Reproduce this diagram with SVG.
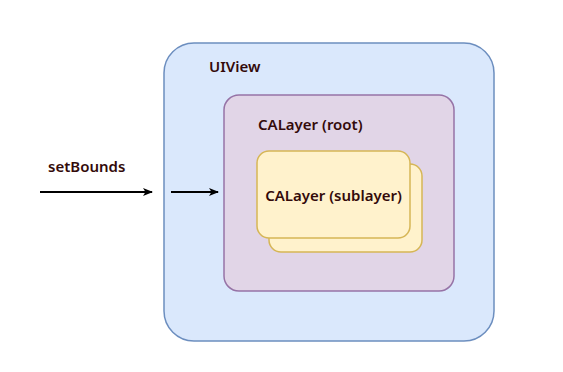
<svg xmlns="http://www.w3.org/2000/svg" width="563" height="372" viewBox="0 0 563 372">
<defs>
<marker id="ah" markerWidth="10" markerHeight="8" refX="9" refY="4" orient="auto" markerUnits="userSpaceOnUse">
<path d="M0,0 L10,4 L0,8 L2.5,4 Z" fill="#000"/>
</marker>
</defs>
<style>
text{font-family:"Noto Sans","DejaVu Sans",sans-serif;font-size:15px;font-weight:600;fill:#330a0a}
.view{fill:#dae8fc;stroke:#6c8ebf;stroke-width:1.5}
.root{fill:#e1d5e7;stroke:#9673a6;stroke-width:1.5}
.sub{fill:#fff2cc;stroke:#d6b656;stroke-width:1.5}
.conn{stroke:#000;stroke-width:2;fill:none;marker-end:url(#ah)}
</style>
<rect width="563" height="372" fill="#fff"/>
<g id="uiview">
<rect class="view" x="164" y="43" width="330" height="298" rx="30"/>
<text x="209" y="72">UIView</text>
</g>
<g id="calayer-root">
<rect class="root" x="224" y="95" width="230" height="196" rx="15"/>
<text x="258" y="130">CALayer (root)</text>
</g>
<g id="sublayer-back">
<rect class="sub" x="269" y="164" width="153" height="88" rx="12"/>
</g>
<g id="sublayer">
<rect class="sub" x="257" y="151" width="153" height="87" rx="12"/>
<text x="333.5" y="201" text-anchor="middle">CALayer (sublayer)</text>
</g>
<g id="setbounds-label">
<text x="48" y="172">setBounds</text>
</g>
<g id="connectors">
<line class="conn" x1="40" y1="192" x2="152" y2="192"/>
<line class="conn" x1="171" y1="192" x2="218" y2="192"/>
</g>
</svg>
